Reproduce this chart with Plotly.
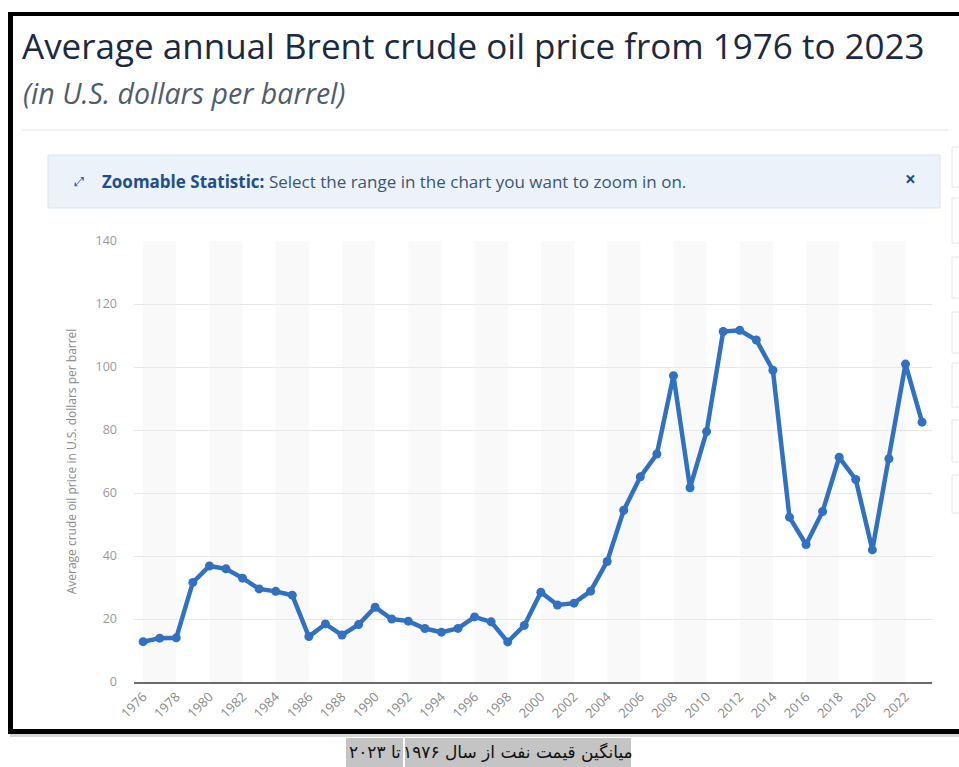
import plotly.graph_objects as go

# ---- data ----
years = list(range(1976, 2024))
prices = [12.80, 13.92, 14.02, 31.61, 36.83, 35.93, 32.97, 29.55, 28.78, 27.56,
          14.43, 18.44, 14.92, 18.23, 23.73, 20.00, 19.32, 16.97, 15.82, 17.02,
          20.67, 19.09, 12.72, 17.97, 28.50, 24.44, 25.02, 28.83, 38.27, 54.52,
          65.14, 72.39, 97.26, 61.67, 79.50, 111.26, 111.63, 108.56, 98.97, 52.32,
          43.64, 54.13, 71.34, 64.30, 41.96, 70.86, 100.93, 82.49]
y_ticks = [0, 20, 40, 60, 80, 100, 120, 140]
x_ticks = list(range(1976, 2023, 2))

title_text = "Average annual Brent crude oil price from 1976 to 2023"
subtitle_text = "(in U.S. dollars per barrel)"
y_title = "Average crude oil price in U.S. dollars per barrel"
caption_right = "میانگین قیمت نفت از سال ۱۹۷۶"
caption_left = "تا ۲۰۲۳"

W, H = 959, 767
L, R, T, B = 134, 932, 241, 682  # plot area in pixels

def px(x):
    return (x - L) / (R - L)

def py(y):
    return (B - y) / (B - T)

fig = go.Figure()
fig.add_trace(go.Scatter(
    x=years, y=prices, mode="lines+markers",
    line=dict(color="#3071c2", width=4.5),
    marker=dict(color="#3071c2", size=9),
    hoverinfo="x+y", showlegend=False, cliponaxis=False,
))

shapes = []
# alternating vertical bands
for start in range(1976, 2024, 4):
    shapes.append(dict(type="rect", xref="x", yref="y", x0=start, x1=start + 2,
                       y0=0, y1=140, fillcolor="#f9f9f9", line_width=0, layer="below"))

# faint card top edge
shapes.append(dict(type="rect", xref="paper", yref="paper",
                   x0=px(22), x1=px(948), y0=py(131), y1=py(129),
                   fillcolor="#f1f2f4", line_width=0, layer="below"))
# banner
shapes.append(dict(type="rect", xref="paper", yref="paper",
                   x0=px(48), x1=px(940), y0=py(208), y1=py(155),
                   fillcolor="#ebf2f9", line=dict(color="#dbe6f1", width=1), layer="below"))
# right-side partial boxes
for (a, b) in [(147, 187), (198, 243), (257, 298), (312, 353), (363, 407), (420, 462), (475, 513)]:
    shapes.append(dict(type="rect", xref="paper", yref="paper",
                       x0=px(952), x1=px(975), y0=py(b), y1=py(a),
                       fillcolor="white", line=dict(color="#e4e6ea", width=1)))
# black frame
shapes.append(dict(type="rect", xref="paper", yref="paper",
                   x0=px(8), x1=px(965), y0=py(16), y1=py(12),
                   fillcolor="black", line_width=0))
shapes.append(dict(type="rect", xref="paper", yref="paper",
                   x0=px(8), x1=px(13), y0=py(734), y1=py(12),
                   fillcolor="black", line_width=0))
shapes.append(dict(type="rect", xref="paper", yref="paper",
                   x0=px(10), x1=px(965), y0=py(737), y1=py(734),
                   fillcolor="#d6d6d6", line_width=0))
shapes.append(dict(type="rect", xref="paper", yref="paper",
                   x0=px(8), x1=px(965), y0=py(734), y1=py(729),
                   fillcolor="black", line_width=0))
# caption highlight boxes
shapes.append(dict(type="rect", xref="paper", yref="paper",
                   x0=px(346), x1=px(403), y0=py(767), y1=py(738),
                   fillcolor="#c4c4c4", line_width=0))
shapes.append(dict(type="rect", xref="paper", yref="paper",
                   x0=px(405), x1=px(631), y0=py(767), y1=py(738),
                   fillcolor="#c4c4c4", line_width=0))

annotations = [
    dict(text=title_text, xref="paper", yref="paper", x=px(20), y=py(45),
         xanchor="left", yanchor="middle", showarrow=False,
         font=dict(family="Open Sans", size=35, color="#1b2a40", weight=500)),
    dict(text="<i>" + subtitle_text + "</i>", xref="paper", yref="paper", x=px(21), y=py(93),
         xanchor="left", yanchor="middle", showarrow=False,
         font=dict(family="Open Sans", size=28.5, color="#4f5d6e")),
    dict(text="⤢", xref="paper", yref="paper", x=px(79), y=py(181),
         xanchor="center", yanchor="middle", showarrow=False,
         font=dict(family="DejaVu Sans", size=13, color="#1f4e8c")),
    dict(text="<b>Zoomable Statistic:</b> <span style='color:#3a5676'>Select the range in the chart you want to zoom in on.</span>",
         xref="paper", yref="paper", x=px(100), y=py(181),
         xanchor="left", yanchor="middle", showarrow=False,
         font=dict(family="Open Sans", size=17, color="#1f4e8c")),
    dict(text="<b>×</b>", xref="paper", yref="paper", x=px(910), y=py(179),
         xanchor="center", yanchor="middle", showarrow=False,
         font=dict(family="Open Sans", size=19, color="#1f4e8c")),
    dict(text=caption_right, xref="paper", yref="paper", x=px(518), y=py(752),
         xanchor="center", yanchor="middle", showarrow=False,
         font=dict(family="DejaVu Sans", size=17, color="#111111")),
    dict(text=caption_left, xref="paper", yref="paper", x=px(375), y=py(752),
         xanchor="center", yanchor="middle", showarrow=False,
         font=dict(family="DejaVu Sans", size=17, color="#111111")),
]

fig.update_layout(
    width=W, height=H,
    margin=dict(l=L, r=W - R, t=T, b=H - B, pad=0),
    paper_bgcolor="white", plot_bgcolor="white",
    shapes=shapes, annotations=annotations,
    font=dict(family="Open Sans", color="#8a8a8a"),
    xaxis=dict(range=[1975.45, 2023.6], tickvals=x_ticks, ticktext=[str(v) for v in x_ticks],
               tickangle=-45, tickfont=dict(size=13, color="#8a8a8a"),
               showgrid=False, zeroline=False, showline=True, linecolor="#6b6b6b", linewidth=2,
               ticks="", fixedrange=True),
    yaxis=dict(range=[0, 140], tickvals=y_ticks, tickfont=dict(size=12.5, color="#9a9a9a"),
               showgrid=True, gridcolor="#e8e8e8", gridwidth=1, zeroline=False,
               showline=False, ticks="", ticklabelstandoff=16,
               title=dict(text=y_title, font=dict(size=12, color="#8a8a8a"), standoff=16),
               fixedrange=True),
)

fig.write_html("out.html", config={"displayModeBar": False},
               post_script="document.body.style.margin='0';document.body.style.padding='0';"
                           "document.body.style.overflow='hidden';")
